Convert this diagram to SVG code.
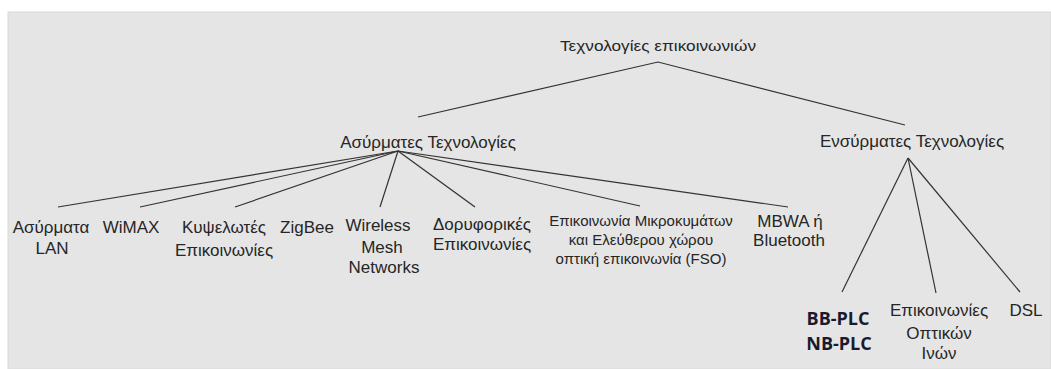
<svg xmlns="http://www.w3.org/2000/svg" width="1051" height="369" viewBox="0 0 1051 369">
  <style>
    .lbl { font-family: "Liberation Sans", Arial, sans-serif; font-size: 17px; fill: #262626; text-anchor: middle; }
    .sm { font-size: 15px; }
    .bold { font-family: "Open Sans", "Liberation Sans", sans-serif; font-weight: bold; font-size: 18px; fill: #1a1a2e; text-anchor: middle; }
    .edge { stroke: #333; stroke-width: 1.2; fill: none; }
  </style>
  <rect width="1051" height="369" fill="#ffffff"/>
  <rect x="8" y="12" width="1043" height="357" fill="#e5e5e5" stroke="#dadada" stroke-width="1"/>

  <g id="connectors">
    <!-- root to categories -->
    <polyline class="edge" points="418,117 658,62 905,125"/>
    <!-- wireless hub -->
    <line class="edge" x1="398" y1="151" x2="58" y2="207"/>
    <line class="edge" x1="398" y1="151" x2="140" y2="207"/>
    <line class="edge" x1="398" y1="151" x2="235" y2="207"/>
    <line class="edge" x1="398" y1="151" x2="380" y2="207"/>
    <line class="edge" x1="398" y1="151" x2="475" y2="207"/>
    <line class="edge" x1="398" y1="151" x2="640" y2="206"/>
    <line class="edge" x1="398" y1="151" x2="788" y2="207"/>
    <!-- wired hub -->
    <line class="edge" x1="908" y1="158" x2="842" y2="292"/>
    <line class="edge" x1="908" y1="158" x2="936" y2="293"/>
    <line class="edge" x1="908" y1="158" x2="1020" y2="292"/>
  </g>

  <g id="root"><text class="lbl" x="658" y="51" style="font-size:15px" textLength="196" lengthAdjust="spacingAndGlyphs">Τεχνολογίες επικοινωνιών</text></g>
  <g id="wireless"><text class="lbl" x="428" y="148">Ασύρματες Τεχνολογίες</text></g>
  <g id="wired"><text class="lbl" x="912" y="147">Ενσύρματες Τεχνολογίες</text></g>

  <g id="wlan"><text class="lbl" x="51" y="233">Ασύρματα</text><text class="lbl" x="52" y="254">LAN</text></g>
  <g id="wimax"><text class="lbl" x="131" y="233">WiMAX</text></g>
  <g id="cellular"><text class="lbl" x="224" y="233">Κυψελωτές</text><text class="lbl" x="224" y="256">Επικοινωνίες</text></g>
  <g id="zigbee"><text class="lbl" x="307" y="233">ZigBee</text></g>
  <g id="mesh"><text class="lbl" x="378" y="231">Wireless</text><text class="lbl" x="382" y="253">Mesh</text><text class="lbl" x="384" y="273">Networks</text></g>
  <g id="satellite"><text class="lbl" x="482" y="230">Δορυφορικές</text><text class="lbl" x="482" y="250">Επικοινωνίες</text></g>
  <g id="microwave"><text class="lbl sm" x="641" y="226">Επικοινωνία Μικροκυμάτων</text><text class="lbl sm" x="641" y="245">και Ελεύθερου χώρου</text><text class="lbl sm" x="641" y="264">οπτική επικοινωνία (FSO)</text></g>
  <g id="mbwa"><text class="lbl" x="790" y="227">MBWA ή</text><text class="lbl" x="789" y="246">Bluetooth</text></g>

  <g id="plc"><text class="bold" x="838" y="325">BB-PLC</text><text class="bold" x="839" y="350">NB-PLC</text></g>
  <g id="optical"><text class="lbl" x="939" y="316">Επικοινωνίες</text><text class="lbl" x="939" y="339">Οπτικών</text><text class="lbl" x="939" y="359">Ινών</text></g>
  <g id="dsl"><text class="lbl" x="1026" y="316">DSL</text></g>
</svg>
